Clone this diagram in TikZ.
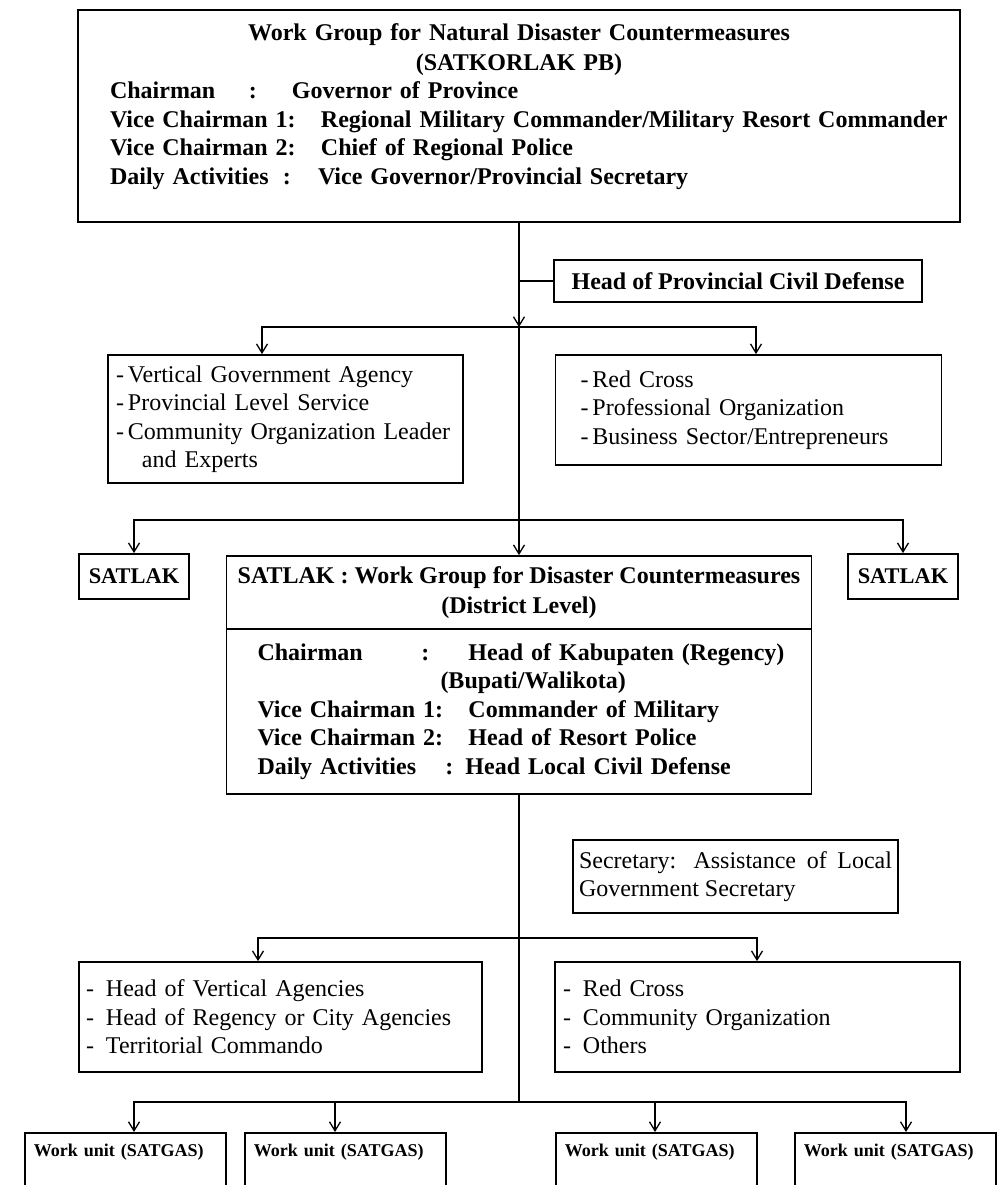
\documentclass[tikz,border=0pt]{standalone}
\usepackage{fontspec}
\setmainfont{Liberation Serif}
\usetikzlibrary{arrows.meta}
\newcommand{\lbl}[2]{\makebox[#1][l]{#2}}

\begin{document}
\begin{tikzpicture}[x=0.5pt, y=-0.5pt, >={Straight Barb[length=4.5pt,width=5.5pt]},
		every node/.style={font=\fontsize{12}{14.25}\selectfont},
		bold/.style={font=\fontsize{12}{14.25}\selectfont\bfseries},
		box/.style={draw, line width=0.9pt, inner sep=0pt},
		listbox/.style={box, align=left},
		unitbox/.style={box, anchor=north west, align=left, inner xsep=4.5pt, inner ysep=5.5pt,
			text width=91.5pt, text depth=60pt, font=\fontsize{9}{11}\selectfont\bfseries},
		link/.style={line width=0.65pt}]
	\useasboundingbox (0,0) rectangle (1004,1185);
	\clip (0,0) rectangle (1004,1185);

	% ---------- province level ----------
	\node[box, minimum width=441pt, minimum height=106pt] (satkorlak) at (519,116) {};
	\node[bold, anchor=base, text width=409pt, align=center, inner sep=0pt] (satkorlaktext) at (519,40)
		{Work Group for Natural Disaster Countermeasures\\[0.75pt]
		(SATKORLAK PB)\\
		\makebox[409pt][l]{\lbl{69.5pt}{Chairman}\lbl{21.5pt}{:}Governor of Province}\\
		\makebox[409pt][l]{\lbl{105.5pt}{Vice Chairman 1:}Regional Military Commander/Military Resort Commander}\\
		\makebox[409pt][l]{\lbl{105.5pt}{Vice Chairman 2:}Chief of Regional Police}\\
		\makebox[409pt][l]{\lbl{86.5pt}{Daily Activities}\lbl{17.5pt}{:}Vice Governor/Provincial Secretary}};

	\node[box, bold, minimum width=184pt, minimum height=21pt] (headcd) at (738,281) {Head of Provincial Civil Defense};

	\coordinate (bar1) at (519,327);
	\coordinate (bar2) at (519,520);

	\node[listbox, minimum width=177.5pt, minimum height=64pt, text width=169.5pt] (provagency) at (285.5,419)
		{-\,Vertical Government Agency\\
		-\,Provincial Level Service\\
		-\,Community Organization Leader\\
		\hspace*{13pt}and Experts};
	\node[listbox, minimum width=193pt, minimum height=55pt, text width=168pt] (provorg) at (748.5,410)
		{-\,Red Cross\\
		-\,Professional Organization\\
		-\,Business Sector/Entrepreneurs};

	\draw[link, ->] (satkorlak.south) -- (bar1);
	\draw[link] (headcd.west) -- (headcd.west -| bar1);
	\draw[link, ->] (bar1) -| (provagency.north -| 262,0);
	\draw[link, ->] (bar1) -| (provorg.north -| 756,0);
	\draw[link] (bar1) -- (bar2);

	% ---------- district level ----------
	\node[box, bold, font=\fontsize{11.2}{14}\selectfont\bfseries, minimum width=55pt, minimum height=22.5pt]
		(satlakleft) at (134,576.5) {SATLAK};
	\node[box, bold, font=\fontsize{11.2}{14}\selectfont\bfseries, minimum width=55pt, minimum height=22.5pt]
		(satlakright) at (903,576.5) {SATLAK};
	\node[box, bold, align=center, minimum width=292.5pt, minimum height=36.5pt] (districthead) at (519,592.5)
		{SATLAK : Work Group for Disaster Countermeasures\\[0.75pt] (District Level)};
	\node[box, bold, align=left, minimum width=292.5pt, minimum height=82.5pt, text width=261.5pt] (districtbody)
		at (519,711.5)
		{\mbox{\lbl{82pt}{Chairman}\lbl{23.5pt}{:}Head of Kabupaten (Regency)}\\
		\mbox{\hspace*{91.5pt}(Bupati/Walikota)}\\
		\mbox{\lbl{105.5pt}{Vice Chairman 1:}Commander of Military}\\
		\mbox{\lbl{105.5pt}{Vice Chairman 2:}Head of Resort Police}\\
		\mbox{\lbl{94pt}{Daily Activities}: Head Local Civil Defense}};

	\draw[link, ->] (bar2) -| (satlakleft.north);
	\draw[link, ->] (bar2) -- (districthead.north);
	\draw[link, ->] (bar2) -| (satlakright.north);

	\node[box, align=justify, minimum width=162.5pt, minimum height=36.5pt, text width=156.5pt] (secretary)
		at (735.5,876.5) {Secretary: Assistance of Local Government Secretary};

	\coordinate (bar3) at (519,938);
	\coordinate (bar4) at (519,1102);

	\node[listbox, minimum width=201.5pt, minimum height=55pt, text width=194.5pt] (regencyagency) at (280.5,1017)
		{-\enspace Head of Vertical Agencies\\
		-\enspace Head of Regency or City Agencies\\
		-\enspace Territorial Commando};
	\node[listbox, minimum width=202.5pt, minimum height=55pt, text width=194.5pt] (regencyorg) at (757.5,1017)
		{-\enspace Red Cross\\
		-\enspace Community Organization\\
		-\enspace Others};

	\draw[link] (districtbody.south) -- (bar3);
	\draw[link, ->] (bar3) -| (regencyagency.north -| 258,0);
	\draw[link, ->] (bar3) -| (regencyorg.north -| 757,0);
	\draw[link] (bar3) -- (bar4);

	% ---------- work units ----------
	\node[unitbox] (unit1) at (24,1132) {Work unit (SATGAS)};
	\node[unitbox] (unit2) at (244,1132) {Work unit (SATGAS)};
	\node[unitbox] (unit3) at (555,1132) {Work unit (SATGAS)};
	\node[unitbox] (unit4) at (794,1132) {Work unit (SATGAS)};

	\draw[link, ->] (bar4) -| (unit1.north -| 134,0);
	\draw[link, ->] (bar4) -| (unit2.north -| 335,0);
	\draw[link, ->] (bar4) -| (unit3.north -| 655,0);
	\draw[link, ->] (bar4) -| (unit4.north -| 906,0);
\end{tikzpicture}
\end{document}
